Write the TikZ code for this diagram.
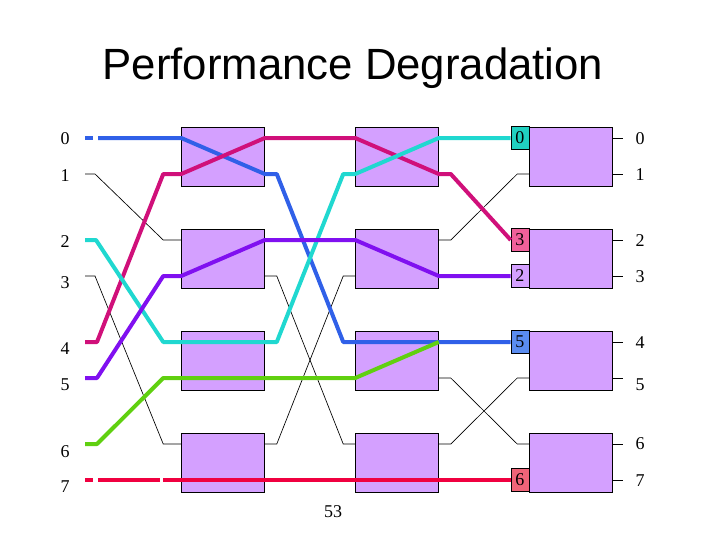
\documentclass[tikz,border=0pt]{standalone}
\usepackage{fontspec}
\setmainfont{Liberation Serif}
\newfontfamily\titlefont{Liberation Sans}
\usetikzlibrary{calc}
\definecolor{boxfill}{HTML}{D4A0FF}
\definecolor{tagteal}{HTML}{20D0C0}
\definecolor{tagpink}{HTML}{F0609A}
\definecolor{tagblue}{HTML}{5A8CF0}
\definecolor{tagred}{HTML}{F06478}
\definecolor{routeblue}{HTML}{3060E8}
\definecolor{routemagenta}{HTML}{D0107A}
\definecolor{routecyan}{HTML}{20D8D0}
\definecolor{routepurple}{HTML}{8010F0}
\definecolor{routegreen}{HTML}{60D010}
\definecolor{routered}{HTML}{F00040}
\tikzset{
  switchbox/.style={draw,fill=boxfill,minimum width=62.25pt,minimum height=44.25pt,inner sep=0pt},
  tagbox/.style={draw,anchor=east,minimum width=13.5pt,minimum height=17.25pt,inner sep=0pt,font=\fontsize{13.5}{14}\selectfont},
  portlabel/.style={font=\fontsize{13.5}{14}\selectfont},
  route/.style={line width=3pt,line join=round},
  idle/.style={line width=0.5pt}
}
\begin{document}
\begin{tikzpicture}[x=0.75pt,y=0.75pt,yscale=-1,xscale=1]
            \useasboundingbox (0,0) rectangle (720,540);
            \node[font=\titlefont\fontsize{32.8}{36}\selectfont,anchor=base] (title) at (353,79) {Performance Degradation};
            \foreach \r/\y in {1/157,2/259,3/361,4/463}{
                \node[switchbox] (a\r) at (223,\y) {};
                \node[switchbox] (b\r) at (397,\y) {};
                \node[switchbox] (c\r) at (571,\y) {};
            }
            \foreach \i/\y/\r in {0/138/1,1/174/1,2/240/2,3/276/2,4/342/3,5/378/3,6/444/4,7/480/4}{
                \coordinate (L\i) at (85,\y);
                \coordinate (A\i) at (a\r.west |- L\i);
                \coordinate (B\i) at (a\r.east |- L\i);
                \coordinate (C\i) at (b\r.west |- L\i);
                \coordinate (D\i) at (b\r.east |- L\i);
                \coordinate (F\i) at (c\r.west |- L\i);
                \coordinate (G\i) at (c\r.east |- L\i);
                \draw[idle] (G\i) -- ++(10,0);
            }
            \foreach \i/\y in {0/139,1/176,2/242,3/283,4/349,5/385,6/452,7/487}
                \node[portlabel] (in\i) at (65,\y) {\i};
            \foreach \i/\y in {0/139,1/175,2/241,3/277,4/343,5/385,6/444,7/481}
                \node[portlabel] (out\i) at (640,\y) {\i};
            \node[portlabel] (pagenum) at (333,512) {53};
            % unused links
            \draw[idle] (L1) -- ++(10,0) -- ($(A2)+(-18,0)$) -- (A2);
            \draw[idle] (L3) -- ++(10,0) -- ($(A6)+(-18,0)$) -- (A6);
            \draw[idle] (B3) -- ++(12,0) -- ($(C6)+(-12,0)$) -- (C6);
            \draw[idle] (B6) -- ++(12,0) -- ($(C3)+(-12,0)$) -- (C3);
            \draw[idle] (D2) -- ++(12,0) -- ($(F1)+(-12,0)$) -- (F1);
            \draw[idle] (D5) -- ++(12,0) -- ($(F6)+(-12,0)$) -- (F6);
            \draw[idle] (D6) -- ++(12,0) -- ($(F5)+(-12,0)$) -- (F5);
            % tags at the last stage
            \node[tagbox,fill=tagteal] (t0) at (F0) {0};
            \node[tagbox,fill=tagpink] (t3) at (F2) {3};
            \node[tagbox,fill=boxfill] (t2) at (F3) {2};
            \node[tagbox,fill=tagblue] (t5) at (F4) {5};
            \node[tagbox,fill=tagred] (t6) at (F7) {6};
            % routed paths
            \draw[route,routeblue] (L0) -- ++(8,0);
            \draw[route,routeblue] ($(L0)+(13,0)$) -- (A0) -- (B1) -- ++(12,0) -- ($(C4)+(-12,0)$) -- (t5.west);
            \draw[route,routemagenta] (L4) -- ++(12,0) -- ($(A1)+(-18,0)$) -- (A1) -- (B0) -- (C0) -- (D1) -- ++(12,0) -- (t3.west);
            \draw[route,routecyan] (L2) -- ++(11,0) -- ($(A4)+(-18,0)$) -- ($(B4)+(12,0)$) -- ($(C1)+(-12,0)$) -- (C1) -- (D0) -- (t0.west);
            \draw[route,routepurple] (L5) -- ++(12,0) -- ($(A3)+(-18,0)$) -- (A3) -- (B2) -- (C2) -- (D3) -- (t2.west);
            \draw[route,routegreen] (L6) -- ++(12,0) -- ($(A5)+(-18,0)$) -- (C5) -- (D4);
            \draw[route,routered] (L7) -- ++(8,0);
            \draw[route,routered] ($(L7)+(13,0)$) -- ++(62,0);
            \draw[route,routered] ($(L7)+(78,0)$) -- (t6.west);
        \end{tikzpicture}
\end{document}
